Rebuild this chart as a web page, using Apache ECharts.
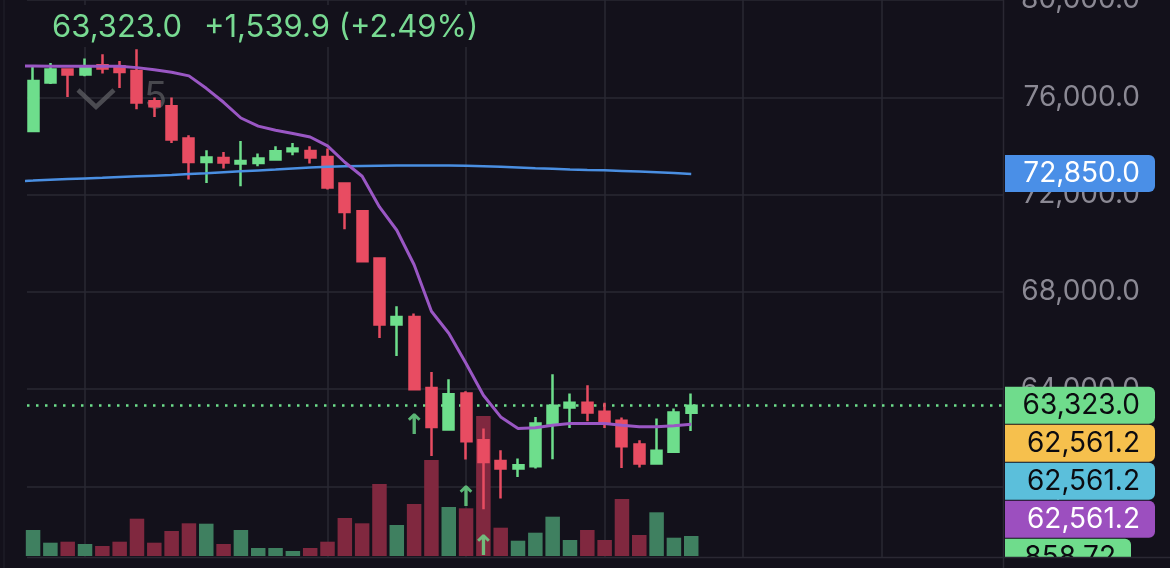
<!DOCTYPE html>
<html><head><meta charset="utf-8">
<script src="https://cdn.jsdelivr.net/npm/echarts@6/dist/echarts.min.js"></script>
<style>html,body{margin:0;padding:0;background:#13111b;}#c{width:1170px;height:568px;}</style>
</head><body><div id="c"></div>
<script>
// ---- data ----
const opens  = [74615,76604,77138,76933,77315,77274,77081,75836,75630,74303,73341,73505,73275,73300,73439,73781,73793,73546,72453,71315,69370,66658,66973,64052,62342,63822,61903,61052,60740,60834,62590,63247,63440,63070,62700,61725,60945,61424,63030];
const closes = [76670,77138,76933,77221,77180,77040,75782,75630,74261,73341,73522,73316,73382,73480,73781,73892,73522,72289,71286,69260,66658,66973,64000,62449,63793,61862,61011,60740,60875,62590,63318,63440,63044,62590,61656,60945,61465,63044,63323];
const highs  = [77274,77410,77150,77591,77767,77492,77973,75988,75988,74438,73822,73752,74204,73686,73986,74122,73986,73891,72494,71330,69411,67410,67110,64710,64410,63916,62384,61492,61150,62860,64615,63822,64163,63440,62836,61903,62795,63206,63822];
const lows   = [74561,76547,76012,76863,76974,76382,75507,75190,74122,72617,72478,73070,72342,73164,73439,73616,73275,72207,70575,69231,66107,65367,63980,61258,62314,61110,59067,59507,60395,60740,61123,62408,62684,62408,60765,60779,60945,61424,62285];
const volumes = [1118,572,615,516,430,615,1604,572,1075,1406,1389,516,1118,344,344,215,344,615,1634,1406,3096,1333,2236,4128,2107,2051,6020,1217,658,1002,1690,688,1118,688,2451,903,1879,787,859];
// moving averages, starting one bar before the first visible candle (index -1)
const maStart = -1;
const maPurple = [77290,77286,77274,77274,77274,77274,77274,77220,77130,77027,76880,76370,75795,75149,74816,74648,74508,74368,74002,73329,72753,71492,70534,69116,67205,66300,65055,63752,62861,62384,62417,62519,62590,62590,62590,62519,62458,62458,62499,62561];
const maBlue   = [72545,72575,72610,72640,72665,72690,72720,72750,72780,72810,72850,72880,72920,72960,72995,73030,73070,73110,73140,73170,73180,73190,73193,73195,73195,73193,73190,73170,73140,73110,73080,73060,73030,73010,73000,72975,72945,72915,72885,72850];
const arrowIdx   = [22,25,26];
const arrowPrice = [62440,59480,57500];
const gridCols = [3,17,25,33,41,49];
const priceMin = 56000, priceMax = 80000, priceStep = 4000;
const lastPrice = 63323.0;
const headerPrice = '63,323.0';
const headerChange = '+1,539.9 (+2.49%)';
const tags = [
  {v:72850.0, txt:'72,850.0', bg:'#4a8fe7', fg:'#ffffff', axis:0},
  {v:63323.0, txt:'63,323.0', bg:'#6fdc8c', fg:'#0b0b10', axis:0},
  {v:62561.2, txt:'62,561.2', bg:'#f6c04d', fg:'#0b0b10', axis:0},
  {v:62561.2, txt:'62,561.2', bg:'#5bbfdb', fg:'#0b0b10', axis:0},
  {v:62561.2, txt:'62,561.2', bg:'#9c4fbf', fg:'#ffffff', axis:0},
  {v:858.72,  txt:'858.72',   bg:'#6fdc8c', fg:'#0b0b10', axis:1, narrow:true}
];

// ---- styles ----
const BG='#13111b', GRID='#2a2833', UP='#6ede8c', DOWN='#e84c62', VUP='#3f8060', VDOWN='#80283f';
const FONT='Inter';

const candleData = opens.map((o,i)=>[i,o,closes[i],lows[i],highs[i]]);
const volData = volumes.map((v,i)=>({value:[i,v], itemStyle:{color: closes[i]>=opens[i]?VUP:VDOWN}}));
const purpleData = maPurple.map((v,i)=>[maStart+i, v]);
const blueData = maBlue.map((v,i)=>[maStart+i, v]);
const arrowData = arrowIdx.map((x,i)=>[x, arrowPrice[i]]);

const gL=27, gR=167;
const chart = echarts.init(document.getElementById('c'));
chart.setOption({
  backgroundColor: BG,
  animation:false,
  textStyle:{fontFamily:FONT},
  grid:[
    {left:gL, right:gR, top:0, bottom:-15.8, containLabel:false, outerBoundsMode:'none'},
    {left:gL, right:gR, top:356, bottom:12, containLabel:false, outerBoundsMode:'none'}
  ],
  xAxis:[
    {type:'value', gridIndex:0, min:-0.35, max:56, show:false, splitLine:{show:false}},
    {type:'value', gridIndex:1, min:-0.35, max:56, show:false, splitLine:{show:false}}
  ],
  yAxis:[
    {type:'value', gridIndex:0, position:'right', min:priceMin, max:priceMax, interval:priceStep,
     axisLine:{show:false}, axisTick:{show:false},
     splitLine:{lineStyle:{color:GRID, width:1.5}},
     axisLabel:{margin:137, align:'right', color:'#8b8994', fontSize:28, fontFamily:FONT,
       formatter:v=>v.toLocaleString('en-US',{minimumFractionDigits:1, maximumFractionDigits:1})}},
    {type:'value', gridIndex:1, min:0, max:8600, show:false, splitLine:{show:false}}
  ],
  series:[
    {type:'bar', xAxisIndex:1, yAxisIndex:1, data:volData, barWidth:14.5, z:1},
    {type:'candlestick', xAxisIndex:0, yAxisIndex:0, data:candleData, barWidth:10.5, z:3,
     itemStyle:{color:UP, color0:DOWN, borderColor:UP, borderColor0:DOWN, borderWidth:2.5},
     markLine:{silent:true, z:1, symbol:['none','none'], label:{show:false},
       lineStyle:{color:GRID, type:'solid', width:1.5},
       data: gridCols.map(c=>({xAxis:c}))}},
    {type:'line', xAxisIndex:0, yAxisIndex:0, data:blueData, showSymbol:false, z:4,
     lineStyle:{color:'#4a8fe2', width:2.5}},
    {type:'line', xAxisIndex:0, yAxisIndex:0, data:purpleData, showSymbol:false, z:4,
     lineStyle:{color:'#9a57c4', width:3}},
    {type:'scatter', xAxisIndex:0, yAxisIndex:0, data:arrowData, symbolSize:0, z:5,
     label:{show:true, position:'inside', formatter:'↑', color:UP, fontSize:28, fontWeight:'bold', fontFamily:'DejaVu Sans'},
     markLine:{silent:true, z:2, symbol:['none','none'], label:{show:false},
       lineStyle:{color:UP, type:[2.5,6.5], width:2.5},
       data:[{yAxis:lastPrice}]}}
  ]
});

// price tags, placed at their values through the axes, pushed down when they overlap
const H=38;
let prevBottom=-1e9;
const tagEls=[];
tags.map(t=>({t, y: chart.convertToPixel({yAxisIndex:t.axis}, t.v)}))
  .sort((a,b)=>a.y-b.y)
  .forEach(({t,y})=>{
    let top=y-H/2;
    if(top<prevBottom) top=prevBottom;
    prevBottom=top+H;
    const w = t.narrow?126:150;
    tagEls.push({type:'rect', z:100, shape:{x:1005, y:top, width:w, height:H-0.8, r:[0,6,6,0]}, style:{fill:t.bg}});
    tagEls.push({type:'text', z:100, style:{text:t.txt, x: t.narrow?1116:1140, y: top+H/2, align:'right', verticalAlign:'middle', font:'28px '+FONT, fill:t.fg}});
  });

chart.setOption({graphic:[
  {type:'rect', z:1.5, shape:{x:38,y:5,width:462,height:42}, style:{fill:BG}},
  {type:'text', z:10, style:{text:headerPrice, x:52, y:28, verticalAlign:'middle', font:'31px '+FONT, fill:'#78da92'}},
  {type:'text', z:10, style:{text:headerChange, x:204, y:28, verticalAlign:'middle', font:'31px '+FONT, fill:'#78da92'}},
  {type:'polyline', z:1.5, shape:{points:[[78,90],[96,107],[114,90]]}, style:{stroke:'rgba(95,95,100,0.75)', lineWidth:4.5, fill:null}},
  {type:'text', z:1.5, style:{text:'5', x:144, y:98, verticalAlign:'middle', font:'38px '+FONT, fill:'rgba(95,95,100,0.7)'}},
  ...tagEls,
  {type:'rect', z:101, shape:{x:0,y:558,width:1170,height:10}, style:{fill:BG}},
  {type:'line', z:102, shape:{x1:gL,y1:557.5,x2:1170,y2:557.5}, style:{stroke:GRID, lineWidth:1.5}},
  {type:'line', z:102, shape:{x1:1003.5,y1:0,x2:1003.5,y2:568}, style:{stroke:GRID, lineWidth:1.5}},
  {type:'line', z:102, shape:{x1:4,y1:0,x2:4,y2:568}, style:{stroke:'#1e1c27', lineWidth:1.5}}
]});
</script>
</body></html>
